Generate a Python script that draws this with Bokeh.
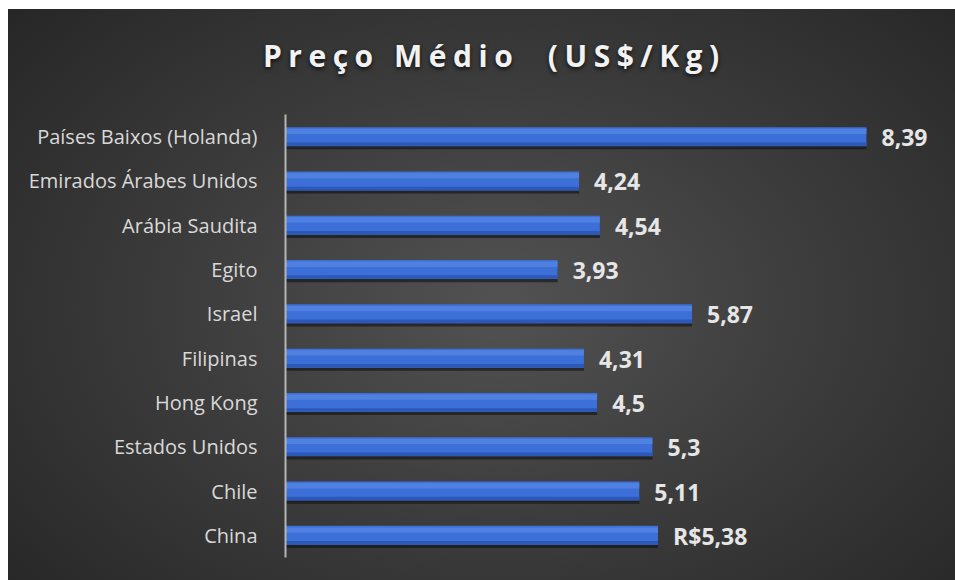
from bokeh.plotting import figure
from bokeh.models import ColumnDataSource, FactorRange, Range1d, Div
from bokeh.layouts import column
from bokeh.transform import dodge
from bokeh.core.properties import value
from bokeh.embed import file_html
from bokeh.resources import INLINE

countries = ["Países Baixos (Holanda)", "Emirados Árabes Unidos", "Arábia Saudita", "Egito",
             "Israel", "Filipinas", "Hong Kong", "Estados Unidos", "Chile", "China"]
prices = [8.39, 4.24, 4.54, 3.93, 5.87, 4.31, 4.5, 5.3, 5.11, 5.38]
price_labels = ["8,39", "4,24", "4,54", "3,93", "5,87", "4,31", "4,5", "5,3", "5,11", "R$5,38"]
title_text = "Preço Médio  (US$/Kg)"

src = ColumnDataSource(dict(cat=countries, val=prices, lab=price_labels))

title_div = Div(text=title_text, width=947, height=96, margin=(0, 0, 0, 0),
                styles={"font-family": "'Open Sans'", "font-weight": "bold", "font-size": "30px",
                        "letter-spacing": "6.5px", "color": "#f2f2f2", "white-space": "pre",
                        "line-height": "40px", "padding-left": "255px", "padding-top": "27px",
                        "text-shadow": "0px 2px 4px rgba(0,0,0,0.75)", "box-sizing": "border-box"})

p = figure(width=947, height=475, output_backend="svg", toolbar_location=None,
           y_range=FactorRange(*reversed(countries)), x_range=Range1d(0, 9.675),
           min_border_left=277, min_border_right=0, min_border_top=9, min_border_bottom=23)
p.background_fill_alpha = 0
p.border_fill_alpha = 0
p.outline_line_color = None

# shadow
p.hbar(y=dodge("cat", -0.07, range=p.y_range), right="val", left=0, height=0.43, source=src,
       fill_color="#101010", fill_alpha=0.6, line_color=None)
# main bar
p.hbar(y="cat", right="val", left=0, height=0.43, source=src,
       fill_color="#3c6fd8", line_color=None)
p.hbar(y=dodge("cat", 0.12, range=p.y_range), right="val", left=0, height=0.12, source=src,
       fill_color="#5f8ee6", fill_alpha=0.6, line_color=None)
p.hbar(y=dodge("cat", -0.17, range=p.y_range), right="val", left=0, height=0.08, source=src,
       fill_color="#2c58b8", line_color=None)

p.text(x="val", y="cat", text="lab", source=src, x_offset=15, y_offset=1,
       text_baseline="middle", text_align="left", text_font=value("Open Sans"),
       text_font_style="bold", text_font_size="23px", text_color="#e6e6e6")

p.xaxis.visible = False
p.xgrid.visible = False
p.ygrid.visible = False
ya = p.yaxis[0]
ya.axis_line_color = "#b5b5b5"
ya.axis_line_width = 2
ya.major_tick_line_color = None
ya.minor_tick_line_color = None
ya.major_label_standoff = 22
ya.major_label_text_font = "Open Sans"
ya.major_label_text_font_size = "20px"
ya.major_label_text_color = "#d9d9d9"

layout = column(title_div, p, spacing=0)
layout.styles = {"background": "radial-gradient(ellipse 75% 85% at 52% 52%, #525252 0%, #3c3c3c 45%, #232323 100%)",
                 "margin-left": "8px", "margin-top": "9px"}

open("out.html", "w").write(file_html(layout, INLINE))
